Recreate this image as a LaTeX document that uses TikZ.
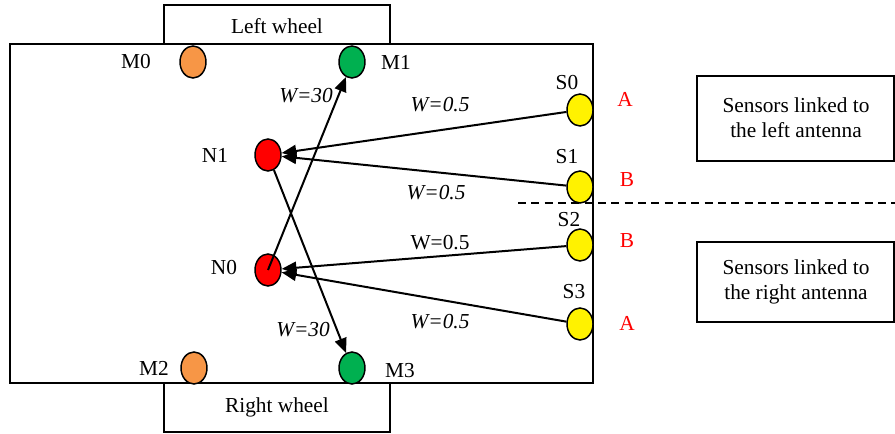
\documentclass[tikz,border=0pt]{standalone}
\usepackage{fontspec}
\setmainfont{Liberation Serif}
\usepackage{tikz}
\usetikzlibrary{positioning,arrows.meta,shapes.geometric}
\definecolor{motorA}{RGB}{247,150,70}
\definecolor{motorB}{RGB}{0,176,80}

\begin{document}
\begin{tikzpicture}[
  x=0.75pt, y=-0.75pt,
  every node/.style={font=\fontsize{16}{19}\selectfont},
  frame/.style={draw, line width=1.5pt},
  neuron/.style={draw, ellipse, line width=1.1pt, minimum width=19.5pt, minimum height=24pt, inner sep=0pt},
  lbl/.style={inner sep=0pt},
  ant/.style={inner sep=0pt, text=red},
  wt/.style={inner sep=0pt, font=\fontsize{16}{19}\selectfont\itshape},
  arr/.style={-{Triangle[length=11pt,width=9pt]}, line width=1.5pt}
]
\useasboundingbox (0,0) rectangle (895,434);

% robot body and wheels
\draw[frame] (10,44) rectangle (593,383);
\draw[frame] (164,5) rectangle (390,44);
\draw[frame] (164,383) rectangle (390,432);
\node[lbl] (lwheel) at (277,26) {Left wheel};
\node[lbl] (rwheel) at (277,407) {Right wheel};

% motors
\node[neuron, fill=motorA] (m0) at (193,62) {};
\node[neuron, fill=motorB] (m1) at (352,62) {};
\node[neuron, fill=motorA] (m2) at (194,368) {};
\node[neuron, fill=motorB] (m3) at (352,368) {};
\node[lbl] at (136,62) {M0};
\node[lbl] at (396,62) {M1};
\node[lbl] at (154,368) {M2};
\node[lbl] at (400,371) {M3};

% inner neurons
\node[neuron, fill=red] (n1) at (268,155) {};
\node[neuron, fill=red] (n0) at (268,270) {};
\node[lbl] at (215,155) {N1};
\node[lbl] at (224,268) {N0};

% sensors
\node[neuron, fill=yellow] (s0) at (580,110) {};
\node[neuron, fill=yellow] (s1) at (580,187) {};
\node[neuron, fill=yellow] (s2) at (580,245) {};
\node[neuron, fill=yellow] (s3) at (580,324) {};
\node[lbl] at (567,83) {S0};
\node[lbl] at (567,157) {S1};
\node[lbl] at (569,220) {S2};
\node[lbl] at (574,292) {S3};
\node[ant] at (625,99) {A};
\node[ant] at (627,180) {B};
\node[ant] at (627,241) {B};
\node[ant] at (627,323) {A};

% connections
\draw[arr] (s0) -- (n1);
\draw[arr] (s1) -- (n1);
\draw[arr] (s2) -- (n0);
\draw[arr] (s3) -- (n0);
\draw[arr] (n0.center) -- (m1);
\draw[arr] (n1) -- (m3);
\node[wt] at (306,96) {W=30};
\node[wt] at (303,330) {W=30};
\node[wt] at (440,105) {W=0.5};
\node[wt] at (436,193) {W=0.5};
\node[lbl] at (440,243) {W=0.5};
\node[wt] at (440,322) {W=0.5};

% antenna groups
\coordinate (dashl) at (518,203);
\coordinate (dashr) at (895,203);
\draw[dashed, line width=1.5pt, dash pattern=on 6pt off 4pt] (dashl) -- (dashr);
\draw[frame] (697,76) rectangle (894,161);
\draw[frame] (697,242) rectangle (894,322);
\node[align=center, inner sep=0pt] (leftant) at (796,118) {Sensors linked to\\the left antenna};
\node[align=center, inner sep=0pt] (rightant) at (796,282) {Sensors linked to\\the right antenna};
\end{tikzpicture}
\end{document}
